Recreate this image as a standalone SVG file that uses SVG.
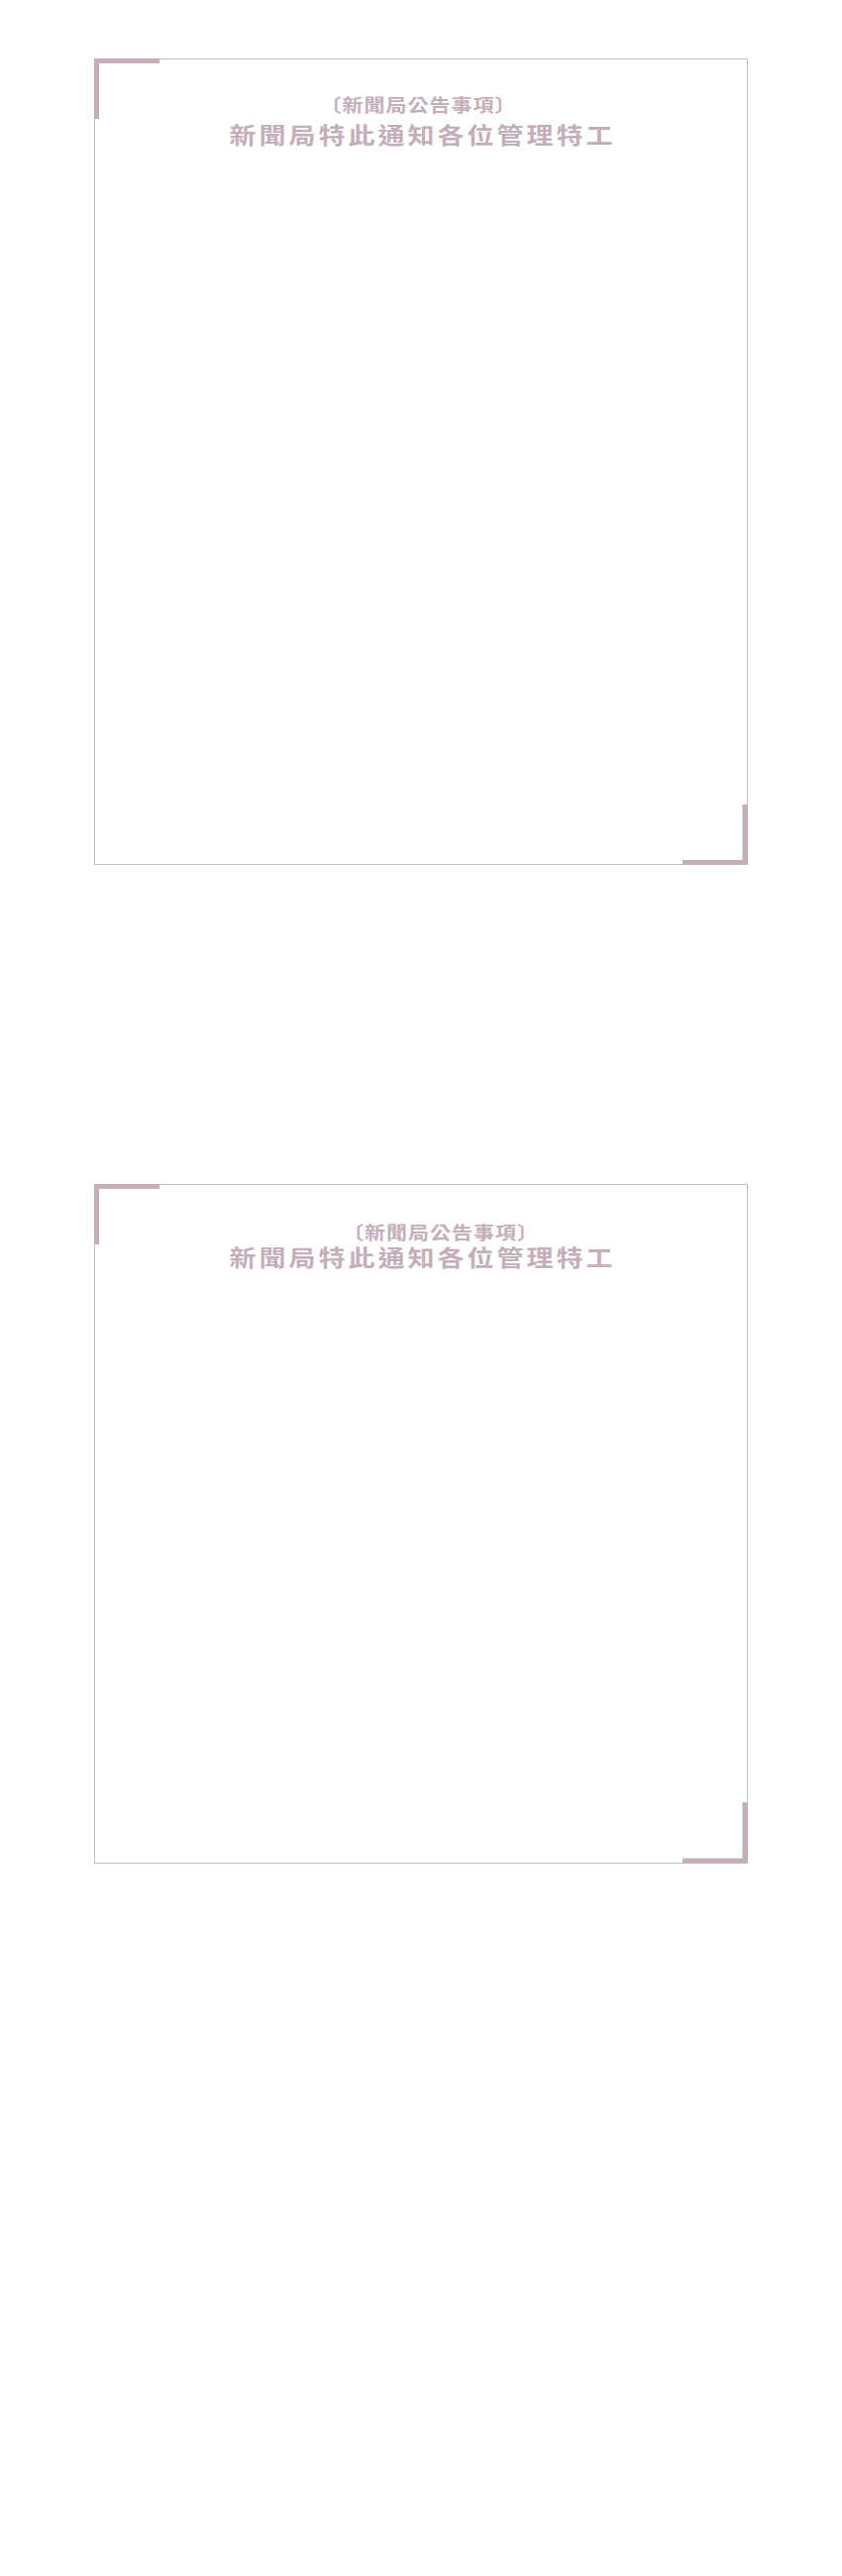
<svg xmlns="http://www.w3.org/2000/svg" width="850" height="2600" viewBox="0 0 850 2600">
  <style>
    .frame { fill: none; stroke: #cbbac3; stroke-width: 1; }
    .bracket { fill: none; stroke: #c4aeb9; stroke-width: 5; stroke-linecap: butt; stroke-linejoin: miter; }
    .sub { font-family: "Noto Sans CJK TC", "Noto Sans CJK SC", sans-serif; font-weight: 700; font-size: 21px; fill: #c4aeb9; letter-spacing: 1px; text-anchor: middle; }
    .title { font-family: "Noto Sans CJK TC", "Noto Sans CJK SC", sans-serif; font-weight: 700; font-size: 27px; fill: #c4aeb9; letter-spacing: 3px; text-anchor: middle; }
  </style>
  <rect width="850" height="2600" fill="#ffffff"/>
  <g id="notice-1">
    <rect class="frame" x="95.5" y="59.5" width="659" height="813"/>
    <path class="bracket" d="M97.5 120 V61.5 H161"/>
    <path class="bracket" d="M752 812 V870.5 H689"/>
    <text class="sub" transform="translate(422.5,113) scale(1,0.87)" x="0" y="0">〔新聞局公告事項〕</text>
    <text class="title" transform="translate(426.5,145) scale(1,0.85)" x="0" y="0">新聞局特此通知各位管理特工</text>
  </g>
  <g id="notice-2">
    <rect class="frame" x="95.5" y="1195.5" width="659" height="685"/>
    <path class="bracket" d="M97.5 1256 V1197.5 H161"/>
    <path class="bracket" d="M752 1819 V1878 H689"/>
    <text class="sub" transform="translate(445,1251) scale(1,0.87)" x="0" y="0">〔新聞局公告事項〕</text>
    <text class="title" transform="translate(426.5,1278) scale(1,0.85)" x="0" y="0">新聞局特此通知各位管理特工</text>
  </g>
  <g id="connectors"/>
</svg>
